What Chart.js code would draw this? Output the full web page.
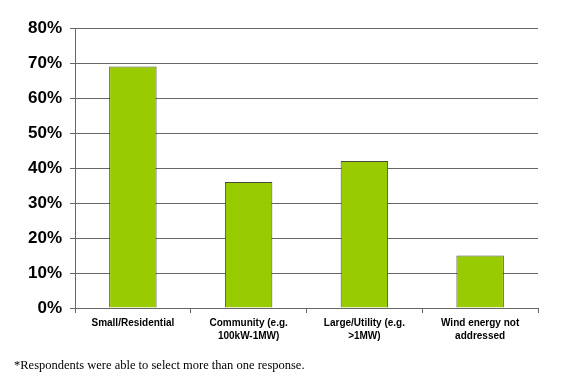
<!DOCTYPE html>
<html><head><meta charset="utf-8">
<script src="https://cdn.jsdelivr.net/npm/chart.js@4/dist/chart.umd.min.js"></script>
<style>html,body{margin:0;padding:0;background:#fff}#wrap{width:570px;height:381px;position:relative}</style>
</head><body><div id="wrap"><canvas id="c" width="570" height="381"></canvas></div>
<script>
const categories = [["Small/Residential"], ["Community (e.g.", "100kW-1MW)"], ["Large/Utility (e.g.", ">1MW)"], ["Wind energy not", "addressed"]];
const values = [69, 36, 42, 15];
const yTicks = [0, 10, 20, 30, 40, 50, 60, 70, 80];
const footnote = "*Respondents were able to select more than one response.";

const footPlugin = {
  id: 'foot',
  afterDraw(chart) {
    const ctx = chart.ctx;
    ctx.save();
    ctx.font = '12.5px "Liberation Serif", "Times New Roman", serif';
    ctx.fillStyle = '#000';
    ctx.textBaseline = 'middle';
    ctx.textAlign = 'left';
    ctx.fillText(footnote, 14, 366);
    ctx.restore();
  }
};

new Chart(document.getElementById('c'), {
  type: 'bar',
  data: {
    labels: categories,
    datasets: [{
      data: values,
      backgroundColor: '#99cc00',
      borderColor: '#4a4a3a',
      borderWidth: 1,
      borderSkipped: 'bottom',
      categoryPercentage: 1,
      barPercentage: 0.41
    }]
  },
  options: {
    responsive: false,
    animation: false,
    layout: { padding: { top: 28, right: 32, left: 0, bottom: 0 } },
    plugins: { legend: { display: false }, tooltip: { enabled: false } },
    scales: {
      y: {
        min: 0, max: 80,
        afterFit(s) { s.width = 75; },
        afterBuildTicks(s) { s.ticks = yTicks.map(v => ({ value: v })); },
        ticks: {
          callback: v => v + '%',
          color: '#000',
          padding: 8,
          font: { family: '"Liberation Sans", Arial, sans-serif', size: 17, weight: 'bold' }
        },
        grid: { color: '#666', lineWidth: 1, tickLength: 5 },
        border: { color: '#666', width: 1 }
      },
      x: {
        afterFit(s) { s.height = 73; },
        ticks: {
          color: '#000',
          padding: 4,
          maxRotation: 0,
          autoSkip: false,
          font: { family: '"Liberation Sans", Arial, sans-serif', size: 10, weight: 'bold', lineHeight: 1.25 }
        },
        grid: { drawOnChartArea: false, color: '#666', tickLength: 5, offset: true },
        border: { color: '#666', width: 1 }
      }
    }
  },
  plugins: [footPlugin]
});
</script></body></html>
